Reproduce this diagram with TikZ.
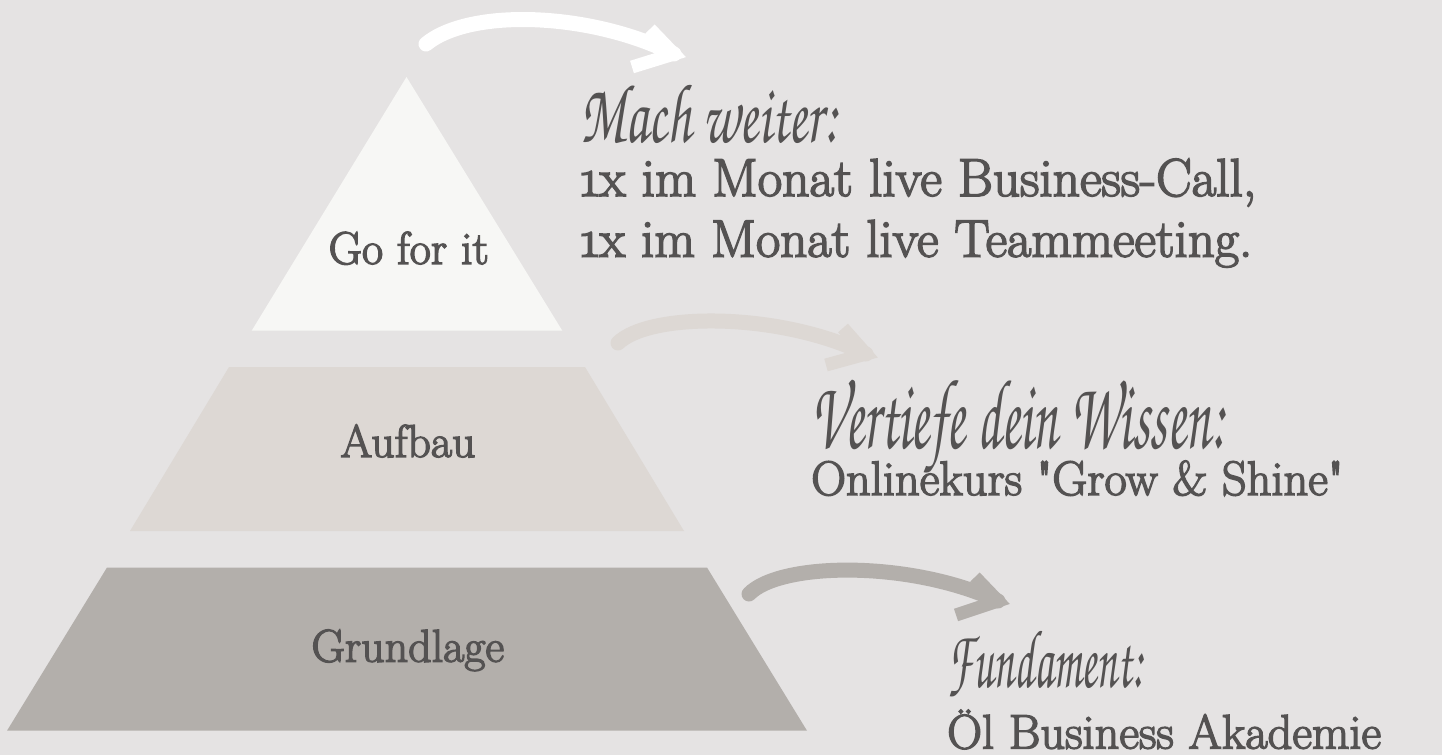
\documentclass[tikz,border=0pt]{standalone}
\usepackage[T1,TU]{fontenc}
\usepackage{fontspec}
\usepackage{graphicx}
\newfontfamily\serifw{Latin Modern Roman}[FakeBold=3]
\definecolor{bgc}{HTML}{E5E3E3}
\definecolor{tierA}{HTML}{F7F7F5}
\definecolor{tierB}{HTML}{DDD8D4}
\definecolor{tierC}{HTML}{B3AFAB}
\definecolor{ink}{HTML}{545252}
\newcommand\scriptfnt{\fontencoding{T1}\fontfamily{pzc}\fontseries{mb}\fontshape{it}\selectfont}
\begin{document}
\begin{tikzpicture}[x=1pt,y=-1pt,
  lbl/.style={inner sep=0pt, text=ink, font=\serifw\fontsize{46}{50}\selectfont},
  rtxt/.style={inner sep=0pt, text=ink, font=\serifw\fontsize{48.4}{52}\selectfont},
  scr/.style={inner sep=0pt, text=ink},
  arrbody/.style={line width=15pt, line cap=round},
  arrhead/.style={line width=13pt, line join=miter, line cap=butt, miter limit=10}]
\useasboundingbox (0,0) rectangle (1442,755);
\fill[bgc] (0,0) rectangle (1442,755);
% pyramid
\fill[tierA] (406.5,77) -- (562.3,330.7) -- (251.7,330.7) -- cycle;
\fill[tierB] (229,367) -- (585,367) -- (684,531) -- (130,531) -- cycle;
\fill[tierC] (107,567.5) -- (707,567.5) -- (807,730.7) -- (7,730.7) -- cycle;
\node[lbl, anchor=base] (goforit) at (408.7,264) {Go for it};
\node[lbl, anchor=base] (aufbau) at (408,457) {Aufbau};
\node[lbl, anchor=base] (grundlage) at (407.8,661.7) {Grundlage};
% arrows
\coordinate (t1) at (426,44);
\coordinate (t2) at (674,54);
\coordinate (t2u) at (650,29);
\coordinate (t2l) at (632,67);
\draw[white, arrbody] (t1) .. controls (470,8) and (590,12) .. (t2);
\draw[white, arrhead] (t2u) -- (t2) -- (t2l);
\coordinate (m1) at (618,343);
\coordinate (m2) at (866,354);
\coordinate (m2u) at (843,328);
\coordinate (m2l) at (826,365);
\draw[tierB, arrbody] (m1) .. controls (650,312) and (780,312) .. (m2);
\draw[tierB, arrhead] (m2u) -- (m2) -- (m2l);
\coordinate (b1) at (749,594);
\coordinate (b2) at (998,601);
\coordinate (b2u) at (975,577);
\coordinate (b2l) at (956,615);
\draw[tierC, arrbody] (b1) .. controls (780,562) and (910,560) .. (b2);
\draw[tierC, arrhead] (b2u) -- (b2) -- (b2l);
% right texts
\node[scr, anchor=base west] (s1) at (580,142) {\resizebox{257pt}{60pt}{\scriptfnt Mach weiter:}};
\node[rtxt, anchor=base west] (r1) at (580,196) {\resizebox{676pt}{!}{\fontsize{44}{48}\selectfont\oldstylenums{1}x im Monat live Business-Call,}};
\node[rtxt, anchor=base west] (r2) at (580,256.7) {\resizebox{672pt}{!}{\fontsize{44}{48}\selectfont\oldstylenums{1}x im Monat live Teammeeting.}};
\node[scr, anchor=base west] (s2) at (811,448) {\resizebox{414pt}{71pt}{\scriptfnt Vertiefe dein Wissen:}};
\node[rtxt, anchor=base west] (r3) at (811,495) {Onlinekurs \textquotedbl Grow \& Shine\textquotedbl};
\node[scr, anchor=base west] (s3) at (947,687) {\resizebox{196pt}{59pt}{\scriptfnt Fundament:}};
\node[rtxt, anchor=base west] (r4) at (947,748.5) {Öl Business Akademie};
\end{tikzpicture}
\end{document}
